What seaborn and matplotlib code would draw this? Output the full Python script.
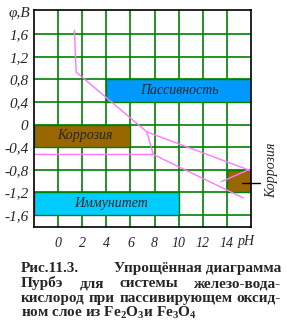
import matplotlib
matplotlib.use("Agg")
import matplotlib.pyplot as plt
import seaborn as sns
import pandas as pd

W, H = 287, 336
sns.set_style("white")
plt.rcParams['font.family'] = ['Liberation Serif', 'DejaVu Serif']
plt.rcParams['mathtext.fontset'] = 'custom'
plt.rcParams['mathtext.bf'] = 'Liberation Serif:bold'
plt.rcParams['mathtext.rm'] = 'Liberation Serif'

# ---- data ----
ph_ticks = [0, 2, 4, 6, 8, 10, 12, 14]
ph_labels = ["0", "2", "4", "6", "8", "10", "12", "14"]
v_ticks = [1.6, 1.2, 0.8, 0.4, 0, -0.4, -0.8, -1.2, -1.6]
v_labels = ["1,6", "1,2", "0,8", "0,4", "0", "-0,4", "-0,8", "-1,2", "-1,6"]

region_names = ["Пассивность", "Коррозия", "Иммунитет", ""]
region_ph_from = [4, -2, -2, 14]
region_ph_to = [16, 6, 10, 16]
region_v_low = [0.4, -0.4, -1.6, -1.2]
region_v_high = [0.8, 0.0, -1.2, -0.8]
region_colors = ["#0099FF", "#996600", "#00CCFF", "#996600"]
region_label_ph = [10.1, 2.2, 4.4, None]

line_ids = [1, 1, 1, 1, 2, 2, 3, 3, 3, 4, 4]
line_ph = [1.35, 1.5, 7.36, 16.0, 7.36, 7.9, -2.0, 7.9, 15.36, 13.56, 15.8]
line_v = [1.67, 0.93, -0.13, -0.82, -0.13, -0.53, -0.53, -0.53, -1.30, -1.01, -0.80]

caption_lines = [
    ["Рис.11.3.", "Упрощённая диаграмма"],
    ["Пурбэ", "для", "системы", "железо-вода-"],
    ["кислород", "при", "пассивирующем", "оксид-"],
    [r"ном слое из $\mathbf{Fe_2O_3}$и $\mathbf{Fe_3O_4}$"],
]

lines_df = pd.DataFrame({"line": line_ids, "pH": line_ph, "V": line_v})

# ---- figure ----
fig = plt.figure(figsize=(W / 100, H / 100), dpi=100)
ax = fig.add_axes([34 / W, 1 - 227 / H, 217 / W, 217 / H])
ax.set_xlim(-2, 16)
ax.set_ylim(-1.815, 2.03)

green = "#008000"
ax.set_axisbelow(True)
ax.set_xticks(ph_ticks)
ax.set_yticks(v_ticks)
ax.grid(True, color=green, lw=1.2, zorder=0)
ax.set_xticklabels(ph_labels, fontstyle="italic", fontsize=10)
ax.set_yticklabels(v_labels, fontstyle="italic", fontsize=11)
ax.tick_params(axis="both", length=0)
ax.tick_params(axis="x", pad=7)
ax.tick_params(axis="y", pad=4)
for s in ax.spines.values():
    s.set_color("black")
    s.set_linewidth(1.2)
    s.set_zorder(5)

for name, a, b, lo, hi, c, lx in zip(region_names, region_ph_from, region_ph_to,
                                     region_v_low, region_v_high, region_colors,
                                     region_label_ph):
    ax.barh(y=(lo + hi) / 2, width=b - a, left=a, height=hi - lo, color=c,
            edgecolor=green, lw=1.0, zorder=2)
    if name:
        ax.text(lx, (lo + hi) / 2, name, ha="center", va="center",
                fontstyle="italic", fontsize=10, zorder=4)

sns.lineplot(data=lines_df, x="pH", y="V", units="line", estimator=None,
             sort=False, color="#FF77FF", lw=1.0, ax=ax, zorder=3, legend=False)
ax.set_xlabel("")
ax.set_ylabel("")

# right-side marker and label
ax.plot([15.25, 16.75], [-1.04, -1.04], color="black", lw=1.0, clip_on=False, zorder=6)
fig.text(272 / W, 1 - 170 / H, "Коррозия", rotation=90, ha="center", va="center",
         fontstyle="italic", fontsize=10)
fig.text(246 / W, 1 - 242 / H, "pH", ha="center", va="center",
         fontstyle="italic", fontsize=10)
fig.text(19 / W, 1 - 13 / H, "φ,B", ha="center", va="center",
         fontstyle="italic", fontsize=11)

# caption (justified)
cap_kw = dict(fontweight="bold", fontsize=11, va="baseline", ha="left")
left_px, right_px = 21, 281
baselines = [272, 287, 302, 317]
fig.canvas.draw()
renderer = fig.canvas.get_renderer()
for i, (words, yb) in enumerate(zip(caption_lines, baselines)):
    texts = [fig.text(0, 1 - yb / H, w, **cap_kw) for w in words]
    widths = [t.get_window_extent(renderer).width for t in texts]
    if len(words) > 1:
        gap = (right_px - left_px - sum(widths)) / (len(words) - 1)
    else:
        gap = 0
    x = left_px
    for t, w in zip(texts, widths):
        t.set_position((x / W, 1 - yb / H))
        x += w + gap

fig.savefig("out.png", dpi=100)
